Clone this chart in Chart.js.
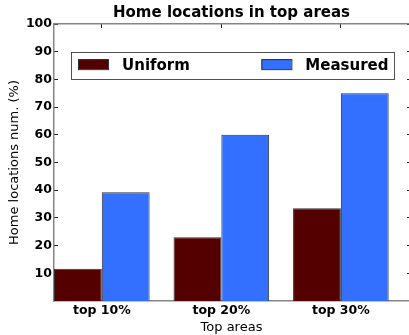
<!DOCTYPE html>
<html lang="en">
<head>
    <meta charset="UTF-8">
    <title>Home locations in top areas</title>
    <script src="https://cdn.jsdelivr.net/npm/chart.js"></script>
    <style>
        html, body {
            margin: 0;
            padding: 0;
            background: #ffffff;
        }
        #wrap {
            width: 409px;
            height: 335px;
        }
    </style>
</head>
<body>
<div id="wrap"><canvas id="homeChart"></canvas></div>

<script>
    // Data
    const categories = ['top 10%', 'top 20%', 'top 30%'];
    const uniformValues = [11.6, 23.0, 33.5];
    const measuredValues = [39.3, 60.0, 75.0];
    const yTickValues = [10, 20, 30, 40, 50, 60, 70, 80, 90, 100];

    const seriesNames = ['Uniform', 'Measured'];
    const seriesColors = ['#550000', '#3370ff'];

    // bars sit at i and i + 0.4 (matplotlib style), ticks at the group centre
    const barWidth = 0.4;
    const groupCentres = categories.map((c, i) => i + barWidth);

    const FONT = "'DejaVu Sans', sans-serif";
    const spineColor = '#858585';

    function setTicks(values) {
        return function (scale) {
            scale.ticks = values.map(v => ({ value: v }));
        };
    }

    // legend drawn inside the plot area
    const innerLegend = {
        id: 'innerLegend',
        afterDatasetsDraw(chart) {
            const ca = chart.chartArea;
            const ctx = chart.ctx;
            const w = ca.right - ca.left;
            const h = ca.bottom - ca.top;
            const left = ca.left + 0.048 * w;
            const right = ca.left + 0.959 * w;
            const top = ca.top + 0.1 * h;
            const bottom = ca.top + 0.197 * h;
            const bw = right - left;

            ctx.save();
            ctx.fillStyle = '#ffffff';
            ctx.fillRect(left, top, bw, bottom - top);
            ctx.strokeStyle = '#505050';
            ctx.lineWidth = 1;
            ctx.strokeRect(Math.round(left) + 0.5, Math.round(top) + 0.5, Math.round(bw), Math.round(bottom - top));

            const cols = [7, 0.5885 * bw];
            const midY = (top + bottom) / 2;
            ctx.font = "bold 15px " + FONT;
            ctx.textBaseline = 'middle';
            ctx.textAlign = 'left';
            cols.forEach((off, i) => {
                const px = left + off;
                ctx.fillStyle = seriesColors[i];
                ctx.fillRect(px, midY - 6, 30, 10);
                ctx.strokeStyle = '#303030';
                ctx.strokeRect(px + 0.5, midY - 5.5, 30, 10);
                ctx.fillStyle = '#000000';
                ctx.fillText(seriesNames[i], px + 44, midY + 0.5);
            });
            ctx.restore();
        }
    };

    const ctx = document.getElementById('homeChart').getContext('2d');
    new Chart(ctx, {
        type: 'bar',
        data: {
            datasets: [
                {
                    label: seriesNames[0],
                    data: uniformValues.map((v, i) => ({ x: groupCentres[i], y: v })),
                    backgroundColor: seriesColors[0],
                    borderColor: '#333333',
                    borderWidth: 1
                },
                {
                    label: seriesNames[1],
                    data: measuredValues.map((v, i) => ({ x: groupCentres[i], y: v })),
                    backgroundColor: seriesColors[1],
                    borderColor: '#333333',
                    borderWidth: 1
                }
            ]
        },
        options: {
            responsive: true,
            maintainAspectRatio: false,
            animation: false,
            categoryPercentage: 0.8,
            barPercentage: 1.0,
            layout: { padding: 0 },
            plugins: {
                legend: { display: false },
                tooltip: { enabled: false },
                title: {
                    display: true,
                    text: 'Home locations in top areas',
                    fullSize: false,
                    color: '#000000',
                    font: { family: FONT, size: 15, weight: 'bold' },
                    padding: { top: 4, bottom: 2 }
                }
            },
            scales: {
                x: {
                    type: 'linear',
                    position: 'bottom',
                    min: 0,
                    max: 2.97,
                    offset: false,
                    afterBuildTicks: setTicks(groupCentres),
                    afterFit: s => { s.height = 34; },
                    grid: { drawOnChartArea: false, drawTicks: false, offset: false },
                    border: { display: true, color: spineColor, width: 1.5 },
                    ticks: {
                        padding: 2,
                        color: '#000000',
                        font: { family: FONT, size: 12.5, weight: 'bold' },
                        maxRotation: 0,
                        autoSkip: false,
                        callback: (v) => categories[groupCentres.indexOf(v)]
                    },
                    title: {
                        display: true,
                        text: 'Top areas',
                        color: '#000000',
                        font: { family: FONT, size: 13 },
                        padding: { top: 0, bottom: 0 }
                    }
                },
                xTop: {
                    type: 'linear',
                    position: 'top',
                    min: 0,
                    max: 2.97,
                    offset: false,
                    afterBuildTicks: setTicks(groupCentres),
                    afterFit: s => { s.height = 0; },
                    grid: { drawOnChartArea: false, tickLength: -4, tickColor: '#222222', offset: false },
                    border: { display: true, color: spineColor, width: 1.5 },
                    ticks: { display: false }
                },
                y: {
                    position: 'left',
                    min: 0,
                    max: 100,
                    afterBuildTicks: setTicks(yTickValues),
                    afterFit: s => { s.width = 54; },
                    grid: { drawOnChartArea: false, tickLength: -4, tickColor: '#222222' },
                    border: { display: true, color: spineColor, width: 1.5 },
                    ticks: {
                        padding: 6,
                        color: '#000000',
                        font: { family: FONT, size: 12.5, weight: 'bold' }
                    },
                    title: {
                        display: true,
                        text: 'Home locations num. (%)',
                        color: '#000000',
                        font: { family: FONT, size: 13 },
                        padding: { top: 7, bottom: 0 }
                    }
                },
                yRight: {
                    position: 'right',
                    min: 0,
                    max: 100,
                    afterBuildTicks: setTicks(yTickValues),
                    afterFit: s => { s.width = 0; },
                    grid: { drawOnChartArea: false, tickLength: -2, tickColor: '#222222' },
                    border: { display: false },
                    ticks: { display: false }
                }
            }
        },
        plugins: [innerLegend]
    });
</script>
</body>
</html>
